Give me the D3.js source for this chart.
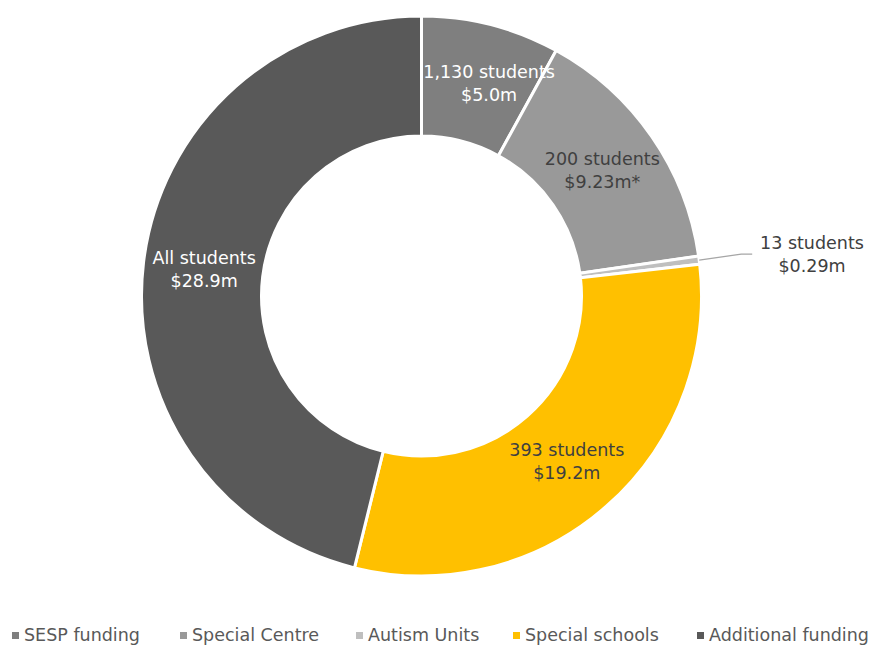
<!DOCTYPE html>
<html><head><meta charset="utf-8">
<script src="https://cdn.jsdelivr.net/npm/d3@7"></script>
<style>body{margin:0;background:#fff;}svg{display:block;font-family:"DejaVu Sans",sans-serif;}</style>
</head><body>
<svg id="c" width="872" height="645"></svg>
<script>
const categories = ["SESP funding","Special Centre","Autism Units","Special schools","Additional funding"];
const values = [5.0, 9.23, 0.29, 19.2, 28.9];
const studentLabels = ["1,130 students","200 students","13 students","393 students","All students"];
const valueLabels = ["$5.0m","$9.23m*","$0.29m","$19.2m","$28.9m"];
const colors = ["#7f7f7f","#999999","#bfbfbf","#ffc000","#595959"];
const textColors = ["#ffffff","#404040","#404040","#404040","#ffffff"];

const svg = d3.select("#c");
const cx = 421.5, cy = 296, R = 280, r = 160;
const data = categories.map((c,i)=>({c, v:values[i], i}));
const pie = d3.pie().value(d=>d.v).sort(null);
const arc = d3.arc().innerRadius(r).outerRadius(R);
const arcs = pie(data);
const g = svg.append("g").attr("transform",`translate(${cx},${cy})`);
g.selectAll("path").data(arcs).join("path")
  .attr("d",arc).attr("fill",d=>colors[d.data.i])
  .attr("stroke","#fff").attr("stroke-width",3);

const dxAdj = [13,0,0,0,1];
arcs.forEach((a,i)=>{
  let x, y;
  if (i===2){
    const m=(a.startAngle+a.endAngle)/2;
    const px=R*Math.sin(m), py=-R*Math.cos(m);
    g.append("path").attr("d",`M${px},${py}L${px+42},${py-6}L${px+53},${py-6}`)
      .attr("fill","none").attr("stroke","#a6a6a6").attr("stroke-width",1.3);
    x = 812-cx; y = 254-cy;
  } else {
    const c = arc.centroid(a); x=c[0]+dxAdj[i]; y=c[1];
  }
  const t = g.append("text").attr("text-anchor","middle").attr("fill",textColors[i])
    .attr("font-size",17.5);
  t.append("tspan").attr("x",x).attr("y",y-11.5).attr("dy","0.35em").text(studentLabels[i]);
  t.append("tspan").attr("x",x).attr("y",y+11.5).attr("dy","0.35em").text(valueLabels[i]);
});

// legend
const legX = [12,180,356,513,697];
const lg = svg.append("g");
categories.forEach((c,i)=>{
  lg.append("rect").attr("x",legX[i]).attr("y",632).attr("width",7).attr("height",7).attr("fill",colors[i]);
  lg.append("text").attr("x",legX[i]+12).attr("y",635).attr("dy","0.35em")
    .attr("font-size",17.5).attr("fill","#595959").text(c);
});
</script>
</body></html>
